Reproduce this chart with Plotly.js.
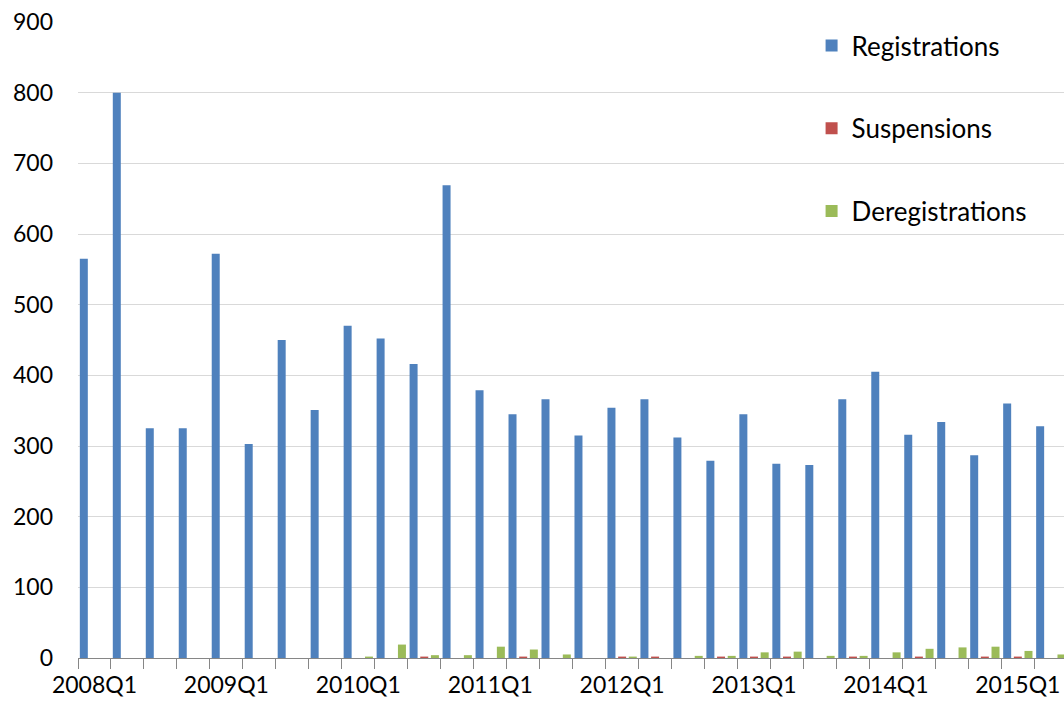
<!DOCTYPE html>
<html>
<head>
<meta charset="utf-8">
<script src="https://cdn.plot.ly/plotly-3.0.1.min.js"></script>
<style>
  html, body { margin: 0; padding: 0; overflow: hidden; background: #fff; }
  #chart { width: 1064px; height: 709px; }
</style>
</head>
<body>
<div id="chart"></div>
<script>
const categories = [
  "2008Q1","2008Q2","2008Q3","2008Q4",
  "2009Q1","2009Q2","2009Q3","2009Q4",
  "2010Q1","2010Q2","2010Q3","2010Q4",
  "2011Q1","2011Q2","2011Q3","2011Q4",
  "2012Q1","2012Q2","2012Q3","2012Q4",
  "2013Q1","2013Q2","2013Q3","2013Q4",
  "2014Q1","2014Q2","2014Q3","2014Q4",
  "2015Q1","2015Q2"
];
const registrations = [
  565, 800, 325, 325,
  572, 303, 450, 351,
  470, 452, 416, 669,
  379, 345, 366, 315,
  354, 366, 312, 279,
  345, 275, 273, 366,
  405, 316, 334, 287,
  360, 328
];
const suspensions = [
  0, 0, 0, 0,
  0, 0, 0, 0,
  0, 0, 2, 0,
  0, 2, 0, 0,
  2, 2, 0, 2,
  2, 2, 0, 2,
  0, 2, 0, 2,
  2, 0
];
const deregistrations = [
  0, 0, 0, 0,
  0, 0, 0, 0,
  2, 19, 4, 4,
  16, 12, 5, 0,
  2, 0, 3, 3,
  8, 9, 3, 3,
  8, 13, 15, 16,
  10, 5
];
const seriesNames = ["Registrations", "Suspensions", "Deregistrations"];
const seriesColors = ["#4F81BD", "#C0504D", "#9BBB59"];
const tickLabels = categories.map((c, i) => (i % 4 === 0 ? c : ""));

const seriesValues = [registrations, suspensions, deregistrations];
const traces = seriesValues.map((vals, k) => ({
  type: "bar",
  name: seriesNames[k],
  x: categories,
  y: vals,
  marker: { color: seriesColors[k], line: { width: 0 } },
  legendgroup: "g" + k
}));

const FONT = "Lato, 'Open Sans', sans-serif";

const layout = {
  width: 1064,
  height: 709,
  margin: { l: 78, r: 0, t: 22, b: 51, pad: 0 },
  paper_bgcolor: "#ffffff",
  plot_bgcolor: "#ffffff",
  barmode: "group",
  bargap: 0.03,
  bargroupgap: 0.25,
  font: { family: FONT, size: 23, color: "#000000" },
  xaxis: {
    type: "category",
    range: [-0.5, 29.4],
    tickmode: "array",
    tickvals: categories,
    ticktext: tickLabels,
    tickson: "boundaries",
    ticks: "outside",
    ticklen: 10,
    tickcolor: "#868686",
    tickwidth: 1,
    showline: true,
    linecolor: "#868686",
    linewidth: 1,
    showgrid: false,
    zeroline: false,
    tickangle: 0,
    ticklabelstandoff: 6,
    tickfont: { family: FONT, size: 23, color: "#000000" }
  },
  yaxis: {
    range: [0, 900],
    dtick: 100,
    tick0: 0,
    showgrid: true,
    gridcolor: "#D9D9D9",
    gridwidth: 1,
    zeroline: false,
    showline: false,
    ticks: "",
    ticklabelstandoff: 24,
    tickfont: { family: FONT, size: 23, color: "#000000" }
  },
  showlegend: true,
  legend: {
    x: 0.744,
    xanchor: "left",
    y: 1.0,
    yanchor: "top",
    bgcolor: "rgba(0,0,0,0)",
    borderwidth: 0,
    traceorder: "grouped",
    tracegroupgap: 46,
    font: { family: FONT, size: 26, color: "#000000" }
  }
};

Plotly.newPlot("chart", traces, layout, { displayModeBar: false, staticPlot: true });
</script>
</body>
</html>
